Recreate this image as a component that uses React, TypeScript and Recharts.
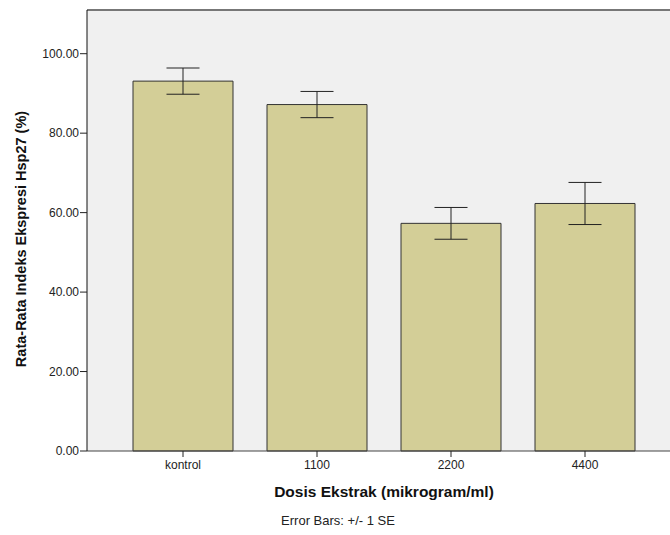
import React from 'react';
import { BarChart, Bar, XAxis, YAxis, CartesianGrid, ErrorBar, ReferenceLine } from 'recharts';

const categories = ['kontrol', '1100', '2200', '4400'];
const meanValues = [93.1, 87.2, 57.3, 62.3];
const seValues = [3.3, 3.3, 4.0, 5.3];
const yTicks = [0, 20, 40, 60, 80, 100];

const chartData = categories.map((name, i) => ({
  name,
  mean: meanValues[i],
  se: seValues[i],
}));

const FONT = '"Liberation Sans", Arial, sans-serif';

// y axis title, rotated
const YTitle = () => (
  <text
    x={21}
    y={239}
    transform="rotate(-90 21 239)"
    textAnchor="middle"
    dominantBaseline="central"
    fontFamily={FONT}
    fontWeight="bold"
    fontSize={14.5}
    fill="#111"
  >
    Rata-Rata Indeks Ekspresi Hsp27 (%)
  </text>
);

// x axis title plus the footnote under it
const XTitle = () => (
  <g>
    <text x={384} y={497} textAnchor="middle" fontFamily={FONT} fontWeight="bold" fontSize={15.5} fill="#111">
      Dosis Ekstrak (mikrogram/ml)
    </text>
    <text x={338} y={525} textAnchor="middle" fontFamily={FONT} fontSize={13} fill="#222">
      Error Bars: +/- 1 SE
    </text>
  </g>
);

const App: React.FC = () => {
  return (
    <div style={{ position: 'fixed', left: 0, top: 0, width: 670, height: 535, overflow: 'hidden', background: '#fff' }}>
      <BarChart width={700} height={535} data={chartData} margin={{ top: 10, right: 19, left: 0, bottom: 0 }}>
        <CartesianGrid fill="#f0f0f0" horizontal={false} vertical={false} />
        <ReferenceLine y={111} stroke="#777" strokeWidth={2} />
        <XAxis
          dataKey="name"
          height={84}
          padding={{ left: 29, right: 29 }}
          tickSize={6}
          tickMargin={3}
          axisLine={{ stroke: '#444' }}
          tickLine={{ stroke: '#222' }}
          tick={{ fontFamily: FONT, fontSize: 12, fill: '#222' }}
          label={<XTitle />}
        />
        <YAxis
          width={87}
          domain={[0, 111]}
          ticks={yTicks}
          tickFormatter={(v: number) => v.toFixed(2)}
          tickSize={7}
          tickMargin={1}
          axisLine={{ stroke: '#111' }}
          tickLine={{ stroke: '#222' }}
          tick={{ fontFamily: FONT, fontSize: 12, fill: '#222' }}
          label={<YTitle />}
        />
        <Bar dataKey="mean" fill="#d3ce97" stroke="#333" strokeWidth={1} barSize={100} isAnimationActive={false}>
          <ErrorBar dataKey="se" width={16.5} stroke="#222" strokeWidth={1} direction="y" />
        </Bar>
      </BarChart>
    </div>
  );
};

export default App;
